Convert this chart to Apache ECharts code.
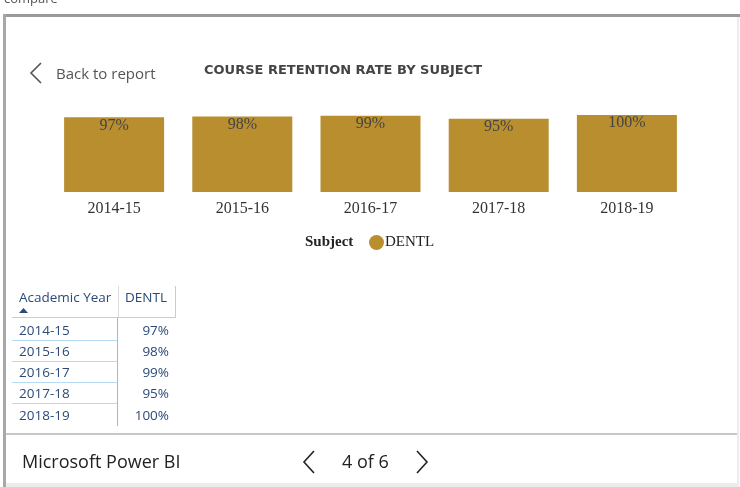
<!DOCTYPE html>
<html>
<head>
<meta charset="utf-8">
<script src="https://cdn.jsdelivr.net/npm/echarts@6/dist/echarts.min.js"></script>
<style>
  html, body { margin: 0; padding: 0; background: #fff; }
  body { width: 740px; height: 487px; position: relative; overflow: hidden; font-family: "Open Sans", "Noto Sans", sans-serif; }
  #chart { position: absolute; left: 0; top: 0; width: 740px; height: 487px; }
  .abs { position: absolute; white-space: nowrap; }
  .frameTop { left: 3px; top: 14px; width: 737px; height: 3px; background: #9a9a9a; }
  .frameLeft { left: 3px; top: 14px; width: 3px; height: 473px; background: #a8a8a8; }
  .frameRight { left: 737px; top: 17px; width: 2px; height: 470px; background: #ececec; }
  .footLine { left: 6px; top: 433px; width: 731px; height: 2px; background: #c8c8c8; }
  .footBottom { left: 6px; top: 483px; width: 731px; height: 4px; background: #ececec; }
  .tbl { font-size: 13.5px; color: #2b4a78; }
</style>
</head>
<body>
<div id="chart"></div>
<div class="abs" style="left:4px;top:-11px;font-size:13px;color:#555;">compare</div>
<div class="abs frameTop"></div>
<div class="abs frameLeft"></div>
<div class="abs frameRight"></div>
<div class="abs footLine"></div>
<div class="abs footBottom"></div>

<svg class="abs" style="left:28px;top:62px;" width="16" height="24">
  <polyline points="13,1 3,11 13,21" fill="none" stroke="#555" stroke-width="1.6"/>
</svg>
<div class="abs" style="left:56px;top:63px;font-size:15px;color:#555;">Back to report</div>

<div id="table"></div>

<div class="abs" style="left:22px;top:449px;font-size:18px;color:#222;">Microsoft Power BI</div>
<svg class="abs" style="left:300px;top:450px;" width="18" height="26">
  <polyline points="14,1 4,12 14,23" fill="none" stroke="#222" stroke-width="1.6"/>
</svg>
<div class="abs" style="left:342px;top:449px;font-size:18px;color:#222;">4 of 6</div>
<svg class="abs" style="left:414px;top:450px;" width="18" height="26">
  <polyline points="3,1 13,12 3,23" fill="none" stroke="#222" stroke-width="1.6"/>
</svg>

<script>
var years = ["2014-15", "2015-16", "2016-17", "2017-18", "2018-19"];
var retention = [97, 98, 99, 95, 100];
var subject = "DENTL";

// table under the chart
var tbl = document.getElementById("table");
var html = "";
html += '<div class="abs tbl" style="left:19px;top:288px;">Academic Year</div>';
html += '<div class="abs tbl" style="left:125px;top:288px;">' + subject + '</div>';
html += '<svg class="abs" style="left:19px;top:308px;" width="9" height="6"><polygon points="0,5 4.5,0 9,5" fill="#2b4a78"/></svg>';
html += '<div class="abs" style="left:118px;top:286px;width:1px;height:31px;background:#dcdcdc;"></div>';
html += '<div class="abs" style="left:175px;top:286px;width:1px;height:32px;background:#a9d6f2;"></div>';
html += '<div class="abs" style="left:12px;top:317px;width:164px;height:1px;background:#a9d6f2;"></div>';
html += '<div class="abs" style="left:117px;top:318px;width:1px;height:108px;background:#7fc3ee;"></div>';
for (var i = 0; i < years.length; i++) {
  var y = 320.5 + i * 21.3;
  html += '<div class="abs tbl" style="left:19px;top:' + y + 'px;">' + years[i] + '</div>';
  html += '<div class="abs tbl" style="left:118px;width:51px;text-align:right;top:' + y + 'px;">' + retention[i] + '%</div>';
  if (i < years.length - 1) {
    html += '<div class="abs" style="left:12px;top:' + (y + 19) + 'px;width:105px;height:1px;background:#b5dcf4;"></div>';
  }
}
tbl.innerHTML = html;

var chart = echarts.init(document.getElementById("chart"));
chart.setOption({
  animation: false,
  title: {
    text: "COURSE RETENTION RATE BY SUBJECT",
    left: 199,
    top: 59,
    textStyle: { fontFamily: "DejaVu Sans", fontWeight: "bold", fontSize: 13, color: "#444" }
  },
  graphic: [{
    type: "text",
    left: 305,
    top: 235,
    style: { text: "Subject", font: "bold 15px 'Liberation Serif', serif", fill: "#222" }
  }],
  legend: {
    left: 369,
    top: 235,
    padding: 0,
    itemWidth: 15,
    itemHeight: 15,
    itemGap: 10,
    icon: "circle",
    textStyle: { fontFamily: "Liberation Serif", fontSize: 15, color: "#222", padding: [0, 0, 0, -4] },
    data: [subject]
  },
  grid: { left: 50, right: 49, top: 115, bottom: 295 },
  xAxis: {
    type: "category",
    data: years,
    axisLine: { show: false },
    axisTick: { show: false },
    axisLabel: { fontFamily: "Liberation Serif", fontSize: 16, color: "#333", margin: 9 }
  },
  yAxis: {
    type: "value",
    min: 0,
    max: 100,
    show: false
  },
  series: [{
    name: subject,
    type: "bar",
    data: retention,
    barWidth: 100,
    itemStyle: { color: "#b88e2f" },
    label: {
      show: true,
      position: "insideTop",
      distance: 0,
      formatter: "{c}%",
      fontFamily: "Liberation Serif",
      fontSize: 16,
      color: "#444"
    }
  }]
});
</script>
</body>
</html>
